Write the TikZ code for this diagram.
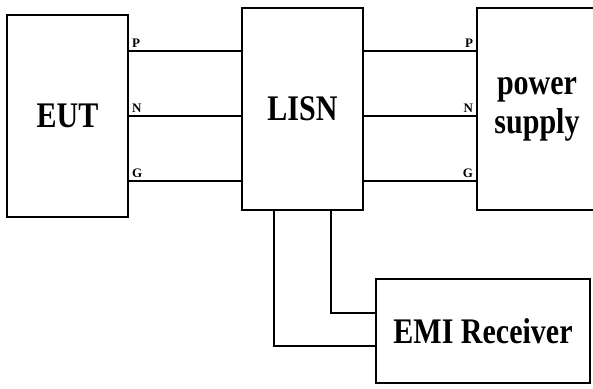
\documentclass[tikz,border=0pt]{standalone}
\usepackage{fontspec}
\setmainfont{Liberation Serif}
\usetikzlibrary{positioning}

\newcommand{\tallword}[1]{\scalebox{1}[1.2]{#1}}

\begin{document}
\begin{tikzpicture}[x=1pt, y=1pt, line width=2pt,
  every node/.style={font=\bfseries},
  blockbox/.style={draw, rectangle, inner sep=0pt, align=center,
    font=\bfseries\fontsize{30}{39}\selectfont},
  pinlabel/.style={font=\bfseries\fontsize{13}{14}\selectfont, inner sep=2pt}]
  \useasboundingbox (0,0) rectangle (593,388);
  \clip (0,0) rectangle (593,388);

  % Blocks
  \node[blockbox, minimum width=121, minimum height=202] (eut) at (67.5,272) {\tallword{EUT}};
  \node[blockbox, minimum width=121, minimum height=202] (lisn) at (302.5,279) {\tallword{LISN}};
  \node[blockbox, minimum width=120, minimum height=202] (psu) at (537,279) {\tallword{power}\\\tallword{supply}};
  \node[blockbox, minimum width=214, minimum height=104] (emi) at (483,57) {\tallword{EMI Receiver}};

  % Coordinates of the three lines
  \coordinate (p) at ([yshift=65]eut.east);
  \coordinate (n) at (eut.east);
  \coordinate (g) at ([yshift=-65]eut.east);

  % EUT to LISN
  \foreach \w/\lab in {p/P, n/N, g/G} {
    \draw (\w) -- (\w -| lisn.west) node[pos=0, above right, pinlabel] {\lab};
  }

  % LISN to power supply
  \foreach \w/\lab in {p/P, n/N, g/G} {
    \draw (\w -| lisn.east) -- (\w -| psu.west) node[pos=1, above left, pinlabel] {\lab};
  }

  % LISN to EMI receiver
  \draw ([xshift=-28.5]lisn.south) |- ([yshift=-15]emi.west);
  \draw ([xshift=28.5]lisn.south) |- ([yshift=18]emi.west);
\end{tikzpicture}
\end{document}
